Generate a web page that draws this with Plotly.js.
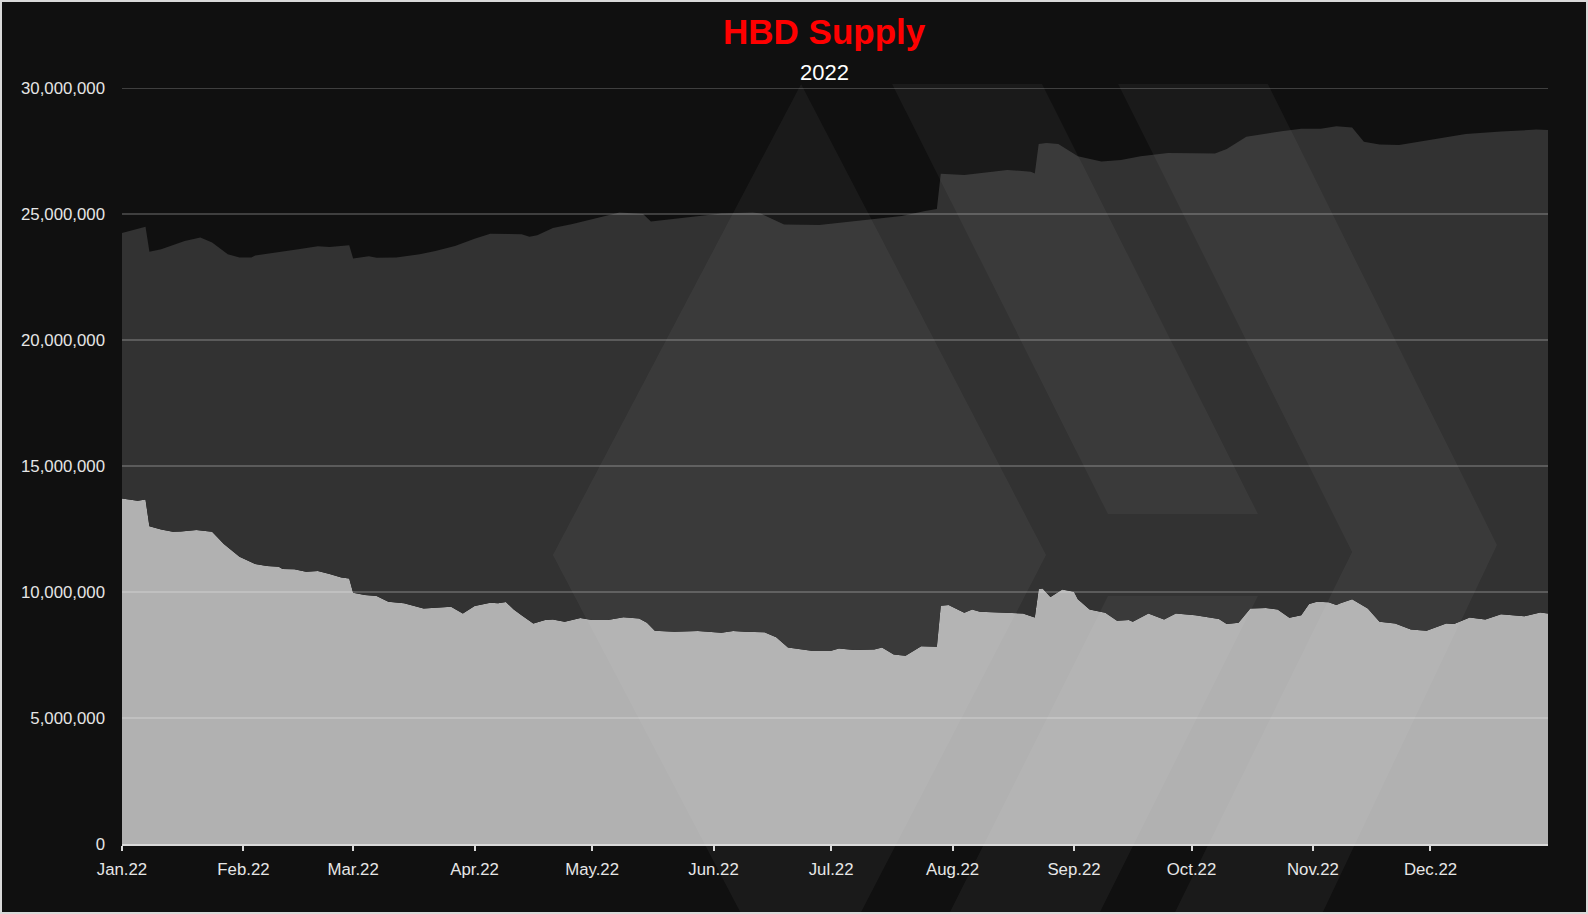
<!DOCTYPE html>
<html><head><meta charset="utf-8">
<script src="https://cdn.plot.ly/plotly-3.0.1.min.js"></script>
<style>
html,body{margin:0;padding:0;background:#d9d9d9;width:1588px;height:914px;overflow:hidden}
#chart{position:absolute;left:2px;top:2px;width:1584px;height:910px}
</style></head><body><div id="chart"></div>
<script>
// ---- data ----
const chartTitle = "HBD Supply";
const chartSubtitle = "2022";

// Total HBD supply (top of the dark area)
const totalDates = ["2022-01-01","2022-01-07","2022-01-08","2022-01-11","2022-01-17","2022-01-21","2022-01-24","2022-01-28","2022-01-31","2022-02-03","2022-02-04","2022-02-10","2022-02-15","2022-02-20","2022-02-23","2022-02-28","2022-03-01","2022-03-05","2022-03-07","2022-03-12","2022-03-18","2022-03-22","2022-03-27","2022-04-01","2022-04-05","2022-04-13","2022-04-15","2022-04-17","2022-04-21","2022-04-26","2022-04-29","2022-05-03","2022-05-08","2022-05-14","2022-05-16","2022-06-03","2022-06-11","2022-06-13","2022-06-19","2022-06-28","2022-07-11","2022-07-19","2022-07-25","2022-07-28","2022-07-29","2022-08-04","2022-08-15","2022-08-21","2022-08-22","2022-08-23","2022-08-25","2022-08-28","2022-09-02","2022-09-04","2022-09-08","2022-09-13","2022-09-18","2022-09-25","2022-10-07","2022-10-10","2022-10-15","2022-10-24","2022-10-29","2022-11-03","2022-11-07","2022-11-11","2022-11-14","2022-11-18","2022-11-23","2022-12-05","2022-12-10","2022-12-19","2022-12-28","2022-12-31"];
const totalSupply = [24250000,24490000,23500000,23600000,23930000,24070000,23870000,23400000,23270000,23270000,23350000,23500000,23600000,23720000,23690000,23760000,23230000,23320000,23260000,23270000,23400000,23530000,23730000,24020000,24220000,24200000,24100000,24160000,24440000,24600000,24720000,24860000,25060000,25000000,24700000,25020000,25060000,25020000,24580000,24560000,24790000,24920000,25120000,25200000,26600000,26550000,26750000,26680000,26610000,27780000,27820000,27780000,27290000,27230000,27080000,27140000,27290000,27420000,27400000,27580000,28070000,28280000,28380000,28380000,28480000,28430000,27870000,27760000,27740000,28050000,28170000,28270000,28350000,28330000];

// Lower (light) area
const lowerDates = ["2022-01-01","2022-01-05","2022-01-07","2022-01-08","2022-01-11","2022-01-14","2022-01-16","2022-01-20","2022-01-24","2022-01-27","2022-01-31","2022-02-04","2022-02-07","2022-02-10","2022-02-11","2022-02-14","2022-02-17","2022-02-20","2022-02-23","2022-02-26","2022-02-28","2022-03-01","2022-03-04","2022-03-07","2022-03-10","2022-03-14","2022-03-19","2022-03-26","2022-03-29","2022-04-01","2022-04-05","2022-04-07","2022-04-09","2022-04-11","2022-04-13","2022-04-16","2022-04-19","2022-04-21","2022-04-24","2022-04-28","2022-05-01","2022-05-05","2022-05-09","2022-05-13","2022-05-15","2022-05-17","2022-05-22","2022-05-28","2022-06-03","2022-06-06","2022-06-09","2022-06-14","2022-06-17","2022-06-20","2022-06-26","2022-07-01","2022-07-03","2022-07-07","2022-07-12","2022-07-14","2022-07-17","2022-07-20","2022-07-24","2022-07-28","2022-07-29","2022-07-31","2022-08-04","2022-08-06","2022-08-08","2022-08-12","2022-08-17","2022-08-19","2022-08-22","2022-08-23","2022-08-24","2022-08-26","2022-08-29","2022-09-01","2022-09-02","2022-09-05","2022-09-09","2022-09-12","2022-09-15","2022-09-16","2022-09-20","2022-09-24","2022-09-27","2022-10-02","2022-10-08","2022-10-10","2022-10-13","2022-10-16","2022-10-20","2022-10-23","2022-10-26","2022-10-29","2022-10-31","2022-11-02","2022-11-05","2022-11-07","2022-11-08","2022-11-11","2022-11-15","2022-11-18","2022-11-22","2022-11-26","2022-11-30","2022-12-03","2022-12-05","2022-12-07","2022-12-11","2022-12-15","2022-12-19","2022-12-25","2022-12-29","2022-12-31"];
const lowerSupply = [13710000,13620000,13670000,12610000,12480000,12390000,12400000,12460000,12390000,11900000,11400000,11110000,11030000,11000000,10910000,10900000,10800000,10830000,10710000,10580000,10540000,9970000,9880000,9840000,9610000,9550000,9350000,9410000,9150000,9440000,9570000,9550000,9600000,9310000,9080000,8750000,8890000,8910000,8820000,8970000,8890000,8890000,9000000,8950000,8780000,8460000,8420000,8450000,8380000,8450000,8420000,8400000,8200000,7800000,7670000,7670000,7760000,7700000,7720000,7800000,7520000,7470000,7850000,7830000,9450000,9480000,9180000,9310000,9220000,9190000,9170000,9150000,8990000,10120000,10140000,9800000,10100000,10010000,9710000,9310000,9180000,8860000,8890000,8820000,9150000,8910000,9150000,9080000,8930000,8730000,8780000,9350000,9370000,9310000,8980000,9080000,9520000,9610000,9590000,9480000,9550000,9710000,9350000,8820000,8750000,8510000,8460000,8620000,8750000,8730000,8990000,8910000,9120000,9040000,9190000,9150000];

const xRange = ["2022-01-01","2022-12-31"];
const yTicks = [0,5000000,10000000,15000000,20000000,25000000,30000000];

// ---- styling ----
const FONT = "Liberation Sans, Arial, sans-serif";
const W = 1426, H = 756, L = 122, B = 844;   // plot box in page pixels
const px = X => (X - L) / W;
const py = Y => (B - Y) / H;
function poly(pts){
  return 'M' + pts.map(p => px(p[0]).toFixed(4) + ',' + py(p[1]).toFixed(4)).join(' L') + ' Z';
}
// faint Hive-logo watermark (decoration)
const logo = [
  [[801,84],[1046,555],[801,1028],[553,555]],
  [[892,84],[1042,84],[1258,514],[1108,514]],
  [[1108,596],[1258,596],[1042,1028],[892,1028]],
  [[1118,84],[1268,84],[1497,545],[1268,1028],[1118,1028],[1352,552]]
];
const shapes = logo.map(p => ({
  type:'path', xref:'paper', yref:'paper', path: poly(p),
  fillcolor:'rgba(255,255,255,0.045)', line:{width:0}, layer:'above'
}));
yTicks.filter(v => v > 0).forEach(v => shapes.push({
  type:'line', xref:'paper', yref:'y', x0:0, x1:1, y0:v, y1:v,
  line:{color:'rgba(255,255,255,0.27)', width:1.5}, layer:'above'
}));

const traces = [
  {x: lowerDates, y: lowerSupply, type:'scatter', mode:'lines', fill:'tozeroy',
   fillcolor:'#b1b1b1', line:{width:0, color:'#b1b1b1'}, hoverinfo:'skip', showlegend:false},
  {x: totalDates, y: totalSupply, type:'scatter', mode:'lines', fill:'tonexty',
   fillcolor:'#323232', line:{width:0, color:'#323232'}, hoverinfo:'skip', showlegend:false}
];

const layout = {
  width:1584, height:910,
  margin:{l:120, r:38, t:86, b:68},
  paper_bgcolor:'#101010', plot_bgcolor:'#101010',
  font:{family:FONT, color:'#e6e6e6', size:16.5},
  showlegend:false,
  xaxis:{type:'date', range:xRange, tick0:'2022-01-01', dtick:'M1', tickformat:'%b.%y',
    showgrid:false, zeroline:false, showline:true, linecolor:'#d9d9d9', linewidth:2,
    ticks:'outside', ticklen:5, tickwidth:2, tickcolor:'#d9d9d9', ticklabelstandoff:4,
    tickfont:{family:FONT, size:16.8, color:'#e6e6e6'}, fixedrange:true},
  yaxis:{range:[0,30000000], tickvals:yTicks, tickformat:',d', showgrid:false, zeroline:false,
    showline:false, ticks:'', ticklabelstandoff:16,
    tickfont:{family:FONT, size:16.8, color:'#e6e6e6'}, fixedrange:true},
  shapes: shapes,
  annotations:[
    {text:chartTitle, xref:'paper', yref:'paper', x:px(824.5), y:py(32), xanchor:'center', yanchor:'middle',
     showarrow:false, font:{family:FONT, size:35, color:'#ff0000', weight:'bold'}},
    {text:chartSubtitle, xref:'paper', yref:'paper', x:px(824), y:py(72), xanchor:'center', yanchor:'middle',
     showarrow:false, font:{family:FONT, size:22, color:'#ffffff'}}
  ]
};
Plotly.newPlot('chart', traces, layout, {staticPlot:true, displayModeBar:false});
</script></body></html>
